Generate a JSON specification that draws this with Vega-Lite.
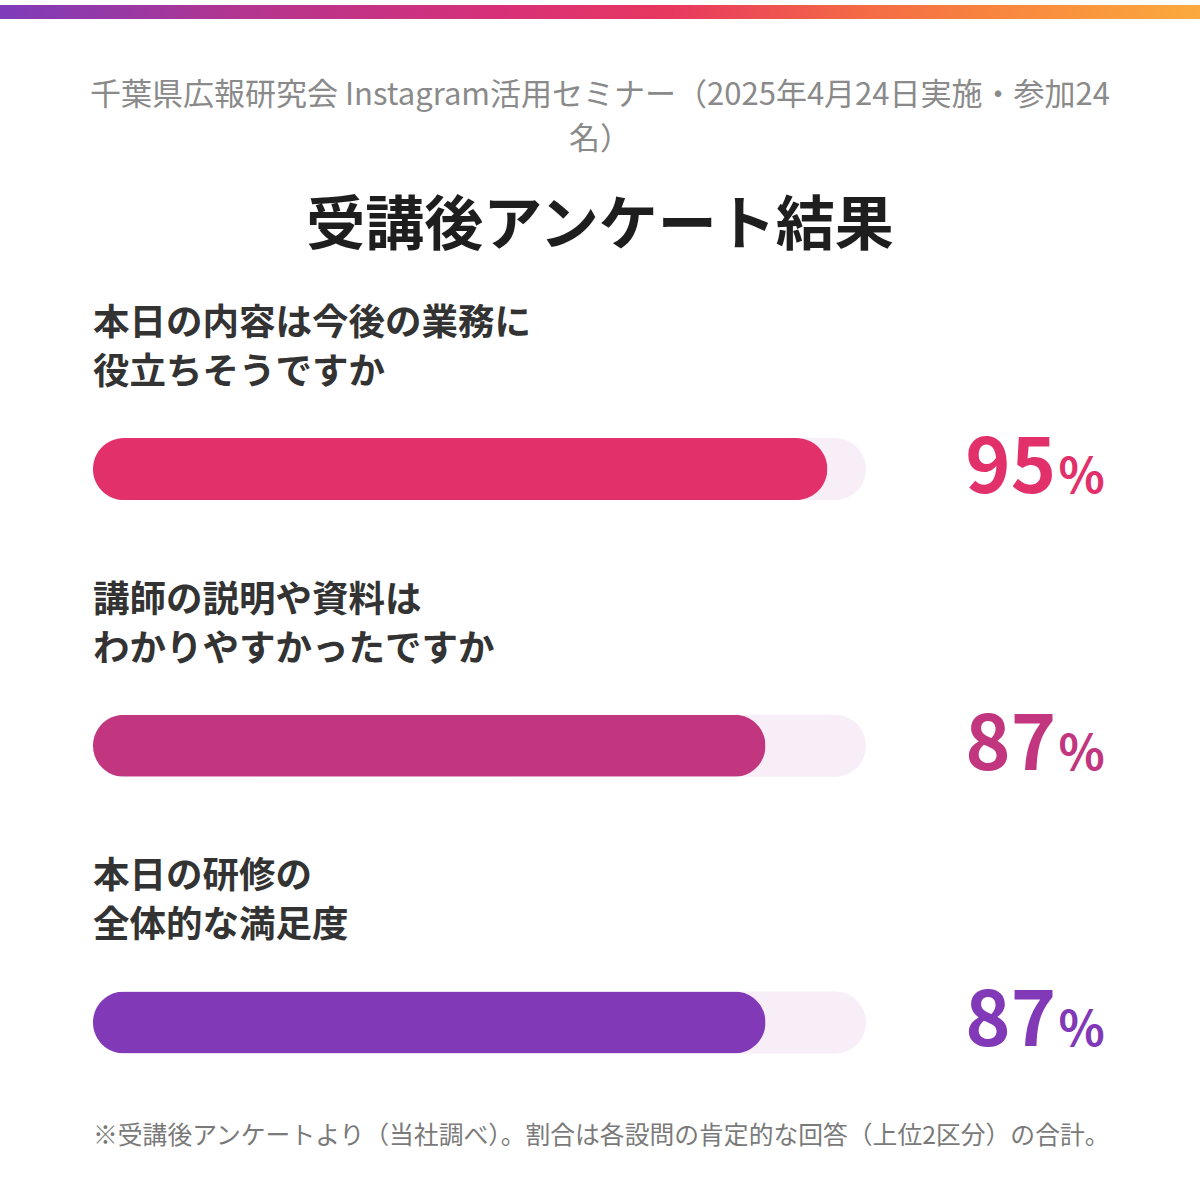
{
  "$schema": "https://vega.github.io/schema/vega-lite/v6.json",
  "width": 1200,
  "height": 1200,
  "padding": 0,
  "autosize": {"type": "none"},
  "background": "#ffffff",
  "config": {"view": {"stroke": null}, "font": "Noto Sans CJK JP"},
  "datasets": {
    "questions": [
      {"order": 1, "question": "本日の内容は今後の業務に\n役立ちそうですか", "value": 95},
      {"order": 2, "question": "講師の説明や資料は\nわかりやすかったですか", "value": 87},
      {"order": 3, "question": "本日の研修の\n全体的な満足度", "value": 87}
    ],
    "texts": [
      {"kind": "subtitle", "text": "千葉県広報研究会 Instagram活用セミナー（2025年4月24日実施・参加24\n名）"},
      {"kind": "title", "text": "受講後アンケート結果"},
      {"kind": "note", "text": "※受講後アンケートより（当社調べ）。割合は各設問の肯定的な回答（上位2区分）の合計。"}
    ]
  },
  "layer": [
    {
      "data": {"values": [{"band": "top"}]},
      "mark": {
        "type": "rect",
        "fill": {
          "gradient": "linear", "x1": 0, "y1": 0, "x2": 1, "y2": 0,
          "stops": [
            {"offset": 0, "color": "#7E3CBA"},
            {"offset": 0.2, "color": "#B2358F"},
            {"offset": 0.42, "color": "#D83078"},
            {"offset": 0.56, "color": "#E8385F"},
            {"offset": 0.72, "color": "#F46A45"},
            {"offset": 0.85, "color": "#F88A3E"},
            {"offset": 1, "color": "#FBAA3D"}
          ]
        }
      },
      "encoding": {
        "x": {"datum": -12.031, "type": "quantitative", "scale": {"domain": [-12.031, 143.208], "nice": false, "zero": false}, "axis": null},
        "x2": {"datum": 143.208},
        "y": {"datum": -0.67742, "type": "quantitative", "scale": {"domain": [-0.67742, 3.62366], "nice": false, "zero": false, "reverse": true}, "axis": null},
        "y2": {"datum": -0.62724}
      }
    },
    {
      "data": {"name": "texts"},
      "transform": [{"filter": "datum.kind === 'subtitle'"}],
      "mark": {"type": "text", "align": "center", "baseline": "middle", "fontSize": 31, "lineHeight": 44, "lineBreak": "\n", "color": "#8a8a8a"},
      "encoding": {
        "x": {"datum": 65.589, "type": "quantitative"},
        "y": {"datum": -0.34767, "type": "quantitative"},
        "text": {"field": "text"}
      }
    },
    {
      "data": {"name": "texts"},
      "transform": [{"filter": "datum.kind === 'title'"}],
      "mark": {"type": "text", "align": "center", "baseline": "middle", "fontSize": 59, "fontWeight": "bold", "color": "#1e1e1e"},
      "encoding": {
        "x": {"datum": 65.589, "type": "quantitative"},
        "y": {"datum": 0.12545, "type": "quantitative"},
        "text": {"field": "text"}
      }
    },
    {
      "data": {"name": "texts"},
      "transform": [{"filter": "datum.kind === 'note'"}],
      "mark": {"type": "text", "align": "left", "baseline": "middle", "fontSize": 24.8, "color": "#7a7a7a"},
      "encoding": {
        "x": {"datum": 0, "type": "quantitative"},
        "y": {"datum": 3.41577, "type": "quantitative"},
        "text": {"field": "text"}
      }
    },
    {
      "data": {"name": "questions"},
      "mark": {"type": "bar", "orient": "horizontal", "height": 62, "cornerRadius": 31, "color": "#F8EEF8"},
      "encoding": {
        "x": {"datum": 100, "type": "quantitative"},
        "y": {"field": "order", "type": "quantitative"}
      }
    },
    {
      "data": {"name": "questions"},
      "mark": {"type": "bar", "orient": "horizontal", "height": 62, "cornerRadius": 31},
      "encoding": {
        "x": {"field": "value", "type": "quantitative"},
        "y": {"field": "order", "type": "quantitative"},
        "color": {"field": "order", "type": "nominal", "scale": {"domain": [1, 2, 3], "range": ["#E2306B", "#C1367F", "#8139B7"]}, "legend": null}
      }
    },
    {
      "data": {"name": "questions"},
      "mark": {"type": "text", "align": "left", "baseline": "middle", "dy": -145, "fontSize": 36.5, "fontWeight": "bold", "lineHeight": 49, "lineBreak": "\n", "color": "#333333"},
      "encoding": {
        "x": {"datum": 0, "type": "quantitative"},
        "y": {"field": "order", "type": "quantitative"},
        "text": {"field": "question"}
      }
    },
    {
      "data": {"name": "questions"},
      "mark": {"type": "text", "align": "right", "baseline": "alphabetic", "dy": 24, "fontSize": 77, "fontWeight": "bold"},
      "encoding": {
        "x": {"datum": 124.6, "type": "quantitative"},
        "y": {"field": "order", "type": "quantitative"},
        "text": {"field": "value", "type": "quantitative"},
        "color": {"field": "order", "type": "nominal", "legend": null}
      }
    },
    {
      "data": {"name": "questions"},
      "mark": {"type": "text", "align": "left", "baseline": "alphabetic", "dy": 24, "fontSize": 48, "fontWeight": "bold", "text": "%"},
      "encoding": {
        "x": {"datum": 124.9, "type": "quantitative"},
        "y": {"field": "order", "type": "quantitative"},
        "color": {"field": "order", "type": "nominal", "legend": null}
      }
    }
  ]
}
